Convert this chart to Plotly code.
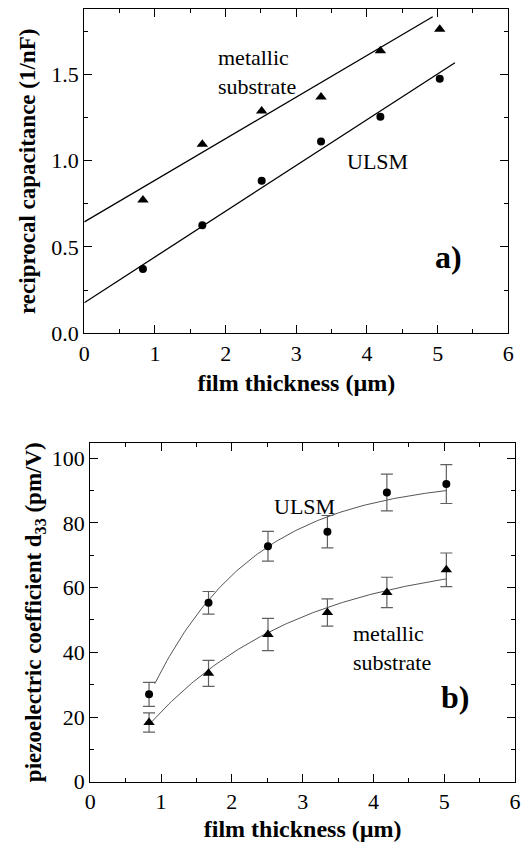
import numpy as np
import plotly.graph_objects as go

# ---------------- data ----------------
thickness = [0.83, 1.67, 2.51, 3.35, 4.19, 5.03]  # film thickness (µm)

# panel a) reciprocal capacitance (1/nF)
recip_metallic = [0.772, 1.094, 1.287, 1.368, 1.636, 1.760]
recip_ulsm = [0.372, 0.625, 0.884, 1.110, 1.254, 1.474]

# linear fits: intercept, slope, x-range
fit_a_metallic = dict(b=0.645, m=0.241, x0=0.0, x1=4.93)
fit_a_ulsm = dict(b=0.177, m=0.265, x0=0.0, x1=5.245)

# panel b) piezoelectric coefficient d33 (pm/V)
d33_ulsm = [27.0, 55.3, 72.8, 77.3, 89.4, 92.0]
d33_ulsm_err = [3.7, 3.5, 4.6, 5.0, 5.7, 6.0]
d33_metallic = [18.3, 33.5, 45.5, 52.3, 58.5, 65.5]
d33_metallic_err = [3.0, 4.0, 5.0, 4.2, 4.7, 5.2]

# saturating exponential fits: A - B*exp(-x/tau)
fit_b_ulsm = dict(A=93.7, B=118.8, tau=1.45, x0=0.91, x1=5.03)
fit_b_metallic = dict(A=70.15, B=77.3, tau=2.15, x0=0.867, x1=5.03)

x_ticks = [0, 1, 2, 3, 4, 5, 6]
ya_ticks = [0.0, 0.5, 1.0, 1.5]
yb_ticks = [0, 20, 40, 60, 80, 100]

# ---------------- figure ----------------
W, H = 522, 842
SERIF = "Liberation Serif"

fig = go.Figure()

def lin(f):
    xs = np.array([f["x0"], f["x1"]])
    return xs, f["b"] + f["m"] * xs

def expfit(f):
    xs = np.linspace(f["x0"], f["x1"], 120)
    return xs, f["A"] - f["B"] * np.exp(-xs / f["tau"])

for f in (fit_a_metallic, fit_a_ulsm):
    xs, ys = lin(f)
    fig.add_trace(go.Scatter(x=xs, y=ys, mode="lines", line=dict(color="black", width=1.3),
                             xaxis="x", yaxis="y", showlegend=False, hoverinfo="skip"))

fig.add_trace(go.Scatter(x=thickness, y=recip_metallic, mode="markers",
                         marker=dict(symbol="triangle-up", size=10, color="black"),
                         xaxis="x", yaxis="y", showlegend=False))
fig.add_trace(go.Scatter(x=thickness, y=recip_ulsm, mode="markers",
                         marker=dict(symbol="circle", size=8, color="black"),
                         xaxis="x", yaxis="y", showlegend=False))

for f in (fit_b_ulsm, fit_b_metallic):
    xs, ys = expfit(f)
    fig.add_trace(go.Scatter(x=xs, y=ys, mode="lines", line=dict(color="#555555", width=1),
                             xaxis="x2", yaxis="y2", showlegend=False, hoverinfo="skip"))

fig.add_trace(go.Scatter(x=thickness, y=d33_ulsm, mode="markers",
                         marker=dict(symbol="circle", size=8, color="black"),
                         error_y=dict(type="data", array=d33_ulsm_err, color="#606060",
                                      thickness=1.2, width=6),
                         xaxis="x2", yaxis="y2", showlegend=False))
fig.add_trace(go.Scatter(x=thickness, y=d33_metallic, mode="markers",
                         marker=dict(symbol="triangle-up", size=10, color="black"),
                         error_y=dict(type="data", array=d33_metallic_err, color="#606060",
                                      thickness=1.2, width=6),
                         xaxis="x2", yaxis="y2", showlegend=False))

tickfont = dict(family=SERIF, size=22, color="black")
titlefont = dict(family=SERIF, size=24, color="black")
ytitlefont = dict(family=SERIF, size=23, color="black")

def xax(domain, anchor, standoff):
    return dict(domain=domain, anchor=anchor, range=[0, 6], tickvals=x_ticks,
                ticktext=[str(v) for v in x_ticks], automargin=False,
                ticks="inside", ticklen=8, tickwidth=1.2, tickcolor="black",
                minor=dict(dtick=0.5, tick0=0, ticks="inside", ticklen=4, tickwidth=1.2, tickcolor="black"),
                showline=True, linecolor="black", linewidth=1.3, mirror="allticks",
                showgrid=False, zeroline=False, tickfont=tickfont,
                title=dict(text="<b>film thickness (µm)</b>", font=titlefont, standoff=standoff))

def yax(domain, anchor, rng, tv, tt, minor_dt, title, standoff):
    return dict(domain=domain, anchor=anchor, range=rng, tickvals=tv, ticktext=tt,
                automargin=False,
                ticks="inside", ticklen=8, tickwidth=1.2, tickcolor="black",
                minor=dict(dtick=minor_dt, tick0=0, ticks="inside", ticklen=4, tickwidth=1.2, tickcolor="black"),
                showline=True, linecolor="black", linewidth=1.3, mirror="allticks",
                showgrid=False, zeroline=False, tickfont=tickfont,
                title=dict(text=title, font=ytitlefont, standoff=standoff))

fig.update_layout(
    width=W, height=H,
    margin=dict(l=0, r=0, t=0, b=0),
    paper_bgcolor="white", plot_bgcolor="white",
    font=dict(family=SERIF),
    xaxis=xax([84.3 / W, 508.3 / W], "y", 9),
    yaxis=yax([1 - 333.3 / H, 1 - 9.3 / H], "x", [0, 1.876], ya_ticks,
              [f"{v:.1f}" for v in ya_ticks], 0.25, "<b>reciprocal capacitance (1/nF)</b>", 9),
    xaxis2=xax([90.3 / W, 515 / W], "y2", 9),
    yaxis2=yax([1 - 781.7 / H, 1 - 442.7 / H], "x2", [0, 104.8], yb_ticks,
               [str(v) for v in yb_ticks], 10,
               "<b>piezoelectric coefficient d<sub>33</sub> (pm/V)</b>", 3),
)

annfont = dict(family=SERIF, size=22, color="black")
labfont = dict(family=SERIF, size=32, color="black")
anns = [
    dict(x=1.864, y=1.513, xref="x", yref="y", text="metallic<br>substrate", font=annfont,
         xanchor="left", yanchor="middle", align="left"),
    dict(x=3.69, y=0.994, xref="x", yref="y", text="ULSM", font=annfont,
         xanchor="left", yanchor="middle"),
    dict(x=4.94, y=0.444, xref="x", yref="y", text="<b>a)</b>", font=labfont,
         xanchor="left", yanchor="middle"),
    dict(x=2.563, y=85.0, xref="x2", yref="y2", text="ULSM", font=annfont,
         xanchor="left", yanchor="middle"),
    dict(x=3.69, y=41.3, xref="x2", yref="y2", text="metallic<br>substrate", font=annfont,
         xanchor="left", yanchor="middle", align="left"),
    dict(x=4.92, y=26.3, xref="x2", yref="y2", text="<b>b)</b>", font=labfont,
         xanchor="left", yanchor="middle"),
]
for a in anns:
    a["showarrow"] = False
fig.update_layout(annotations=anns)

fig.write_html("out.html")
